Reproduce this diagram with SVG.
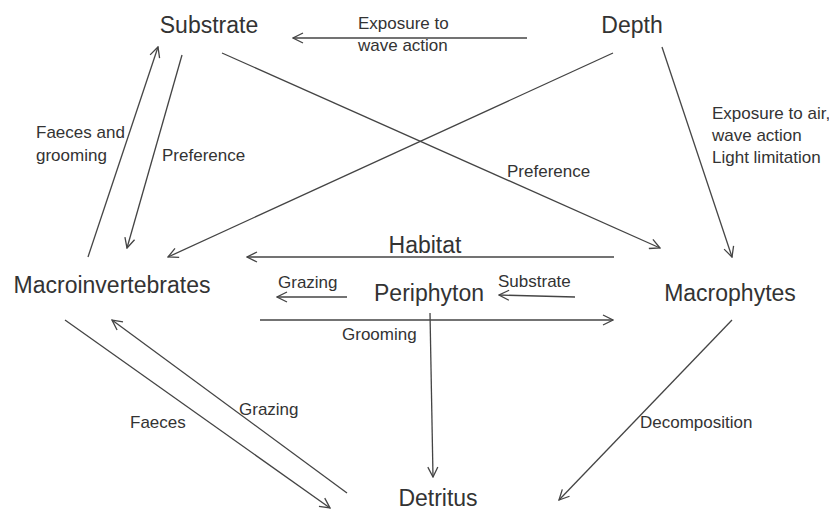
<svg xmlns="http://www.w3.org/2000/svg" width="829" height="514" viewBox="0 0 829 514">
<defs>
<marker id="arr" viewBox="0 0 12 12" refX="11" refY="6" markerWidth="12" markerHeight="12" markerUnits="userSpaceOnUse" orient="auto">
<path d="M1,1 L11,6 L1,11" fill="none" stroke="#444" stroke-width="1.3"/>
</marker>
<style>
.node{font-family:"Liberation Sans",Arial,sans-serif;font-size:23px;fill:#333;text-anchor:middle}
.lbl{font-family:"Liberation Sans",Arial,sans-serif;font-size:17px;fill:#333}
.c{stroke:#444;stroke-width:1.3;fill:none;marker-end:url(#arr)}
.p{stroke:#444;stroke-width:1.3;fill:none}
</style>
</defs>
<rect width="829" height="514" fill="#fff"/>
<g id="connectors">
<line class="c" x1="527" y1="38" x2="293" y2="38"/>
<line class="c" x1="613" y1="53" x2="168" y2="257"/>
<line class="c" x1="222" y1="53" x2="660" y2="248"/>
<line class="c" x1="662" y1="47" x2="732" y2="257"/>
<line class="c" x1="88" y1="257" x2="158" y2="47"/>
<line class="c" x1="182" y1="55" x2="127" y2="248"/>
<line class="c" x1="614" y1="257" x2="247" y2="257"/>
<line class="c" x1="347" y1="297" x2="277" y2="297"/>
<line class="c" x1="575" y1="297" x2="499" y2="295"/>
<line class="c" x1="260" y1="320" x2="613" y2="320"/>
<line class="c" x1="430" y1="313" x2="433" y2="477"/>
<line class="c" x1="65" y1="320" x2="330" y2="508"/>
<line class="c" x1="347" y1="493" x2="112" y2="320"/>
<line class="c" x1="732" y1="320" x2="559" y2="500"/>
</g>
<g id="labels">
<text class="lbl" x="358" y="29">Exposure to</text>
<text class="lbl" x="358" y="51">wave action</text>
<text class="lbl" x="36" y="138">Faeces and</text>
<text class="lbl" x="36" y="161">grooming</text>
<text class="lbl" x="162" y="161">Preference</text>
<text class="lbl" x="507" y="177">Preference</text>
<text class="lbl" x="712" y="119">Exposure to air,</text>
<text class="lbl" x="712" y="141">wave action</text>
<text class="lbl" x="712" y="163">Light limitation</text>
<text class="lbl" x="278" y="288">Grazing</text>
<text class="lbl" x="498" y="287">Substrate</text>
<text class="lbl" x="342" y="340">Grooming</text>
<text class="lbl" x="130" y="428">Faeces</text>
<text class="lbl" x="239" y="415">Grazing</text>
<text class="lbl" x="640" y="428">Decomposition</text>
</g>
<g id="node-substrate"><text class="node" x="209" y="33">Substrate</text></g>
<g id="node-depth"><text class="node" x="632" y="33">Depth</text></g>
<g id="node-habitat"><text class="node" x="425" y="253">Habitat</text></g>
<g id="node-macroinvertebrates"><text class="node" x="112" y="293">Macroinvertebrates</text></g>
<g id="node-periphyton"><text class="node" x="429" y="301">Periphyton</text></g>
<g id="node-macrophytes"><text class="node" x="730" y="301">Macrophytes</text></g>
<g id="node-detritus"><text class="node" x="438" y="506">Detritus</text></g>
</svg>
